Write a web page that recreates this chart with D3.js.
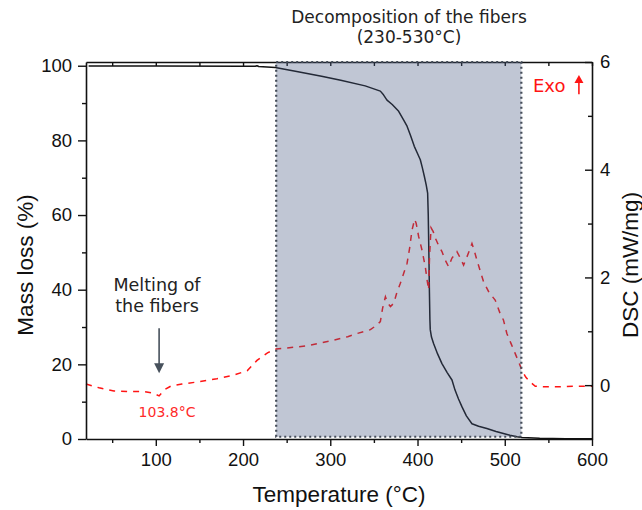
<!DOCTYPE html>
<html>
<head>
<meta charset="utf-8">
<script src="https://cdn.jsdelivr.net/npm/d3@7"></script>
<style>
  html, body { margin: 0; padding: 0; background: #fff; }
  svg { display: block; }
</style>
</head>
<body>
<svg id="chart" width="642" height="510"></svg>
<script>
// ---------- data ----------
const massTemp = [23, 100, 200, 214, 216, 218, 237, 260, 290, 312, 340, 357.4, 361, 365, 371, 378.4, 384, 388, 392, 396.3, 400, 403.2, 405.5, 407.8, 410, 411.6, 412.3, 413, 413.6, 414.2, 414.6, 416, 418.4, 423, 428, 434, 439.5, 443, 447, 451, 456, 462.4, 470, 479.5, 490, 498.5, 506, 514, 520, 540, 570, 600];
const massLoss = [99.9, 99.9, 99.85, 99.85, 100.0, 99.8, 99.5, 98.5, 97.2, 96.1, 94.6, 93.2, 92.2, 90.8, 89.6, 87.8, 85.5, 83.8, 81.3, 78.4, 76.5, 74.8, 72.7, 70.4, 68.0, 65.9, 60, 50, 40, 32, 29.3, 27.3, 25.6, 22.8, 20.2, 17.8, 15.8, 13.1, 10.7, 8.6, 6.2, 4.1, 3.4, 2.8, 2.0, 1.45, 1.0, 0.6, 0.4, 0.2, 0.1, 0.05];

const dscTemp = [20, 35, 52, 70, 87, 97, 103.8, 109.5, 117, 130, 148, 170, 190, 205, 216, 228, 238, 250, 274, 300, 320, 331, 346, 352, 357.4, 360, 363.2, 366, 369, 372.7, 376, 380.3, 384, 388, 391, 393.7, 396.7, 398.5, 401.3, 405.1, 408.9, 411, 412.7, 413.8, 415.5, 418, 420.4, 424, 428, 431.5, 435.6, 439.5, 442.5, 445.2, 449, 452.8, 456.6, 459.5, 462.4, 465, 468.1, 475.7, 482, 489, 494.7, 498.5, 502.4, 507, 511.9, 516, 519.6, 524, 529, 535, 545, 560, 580, 600];
const dscValue = [0.02, -0.05, -0.11, -0.12, -0.12, -0.15, -0.2, -0.09, -0.02, 0.02, 0.06, 0.12, 0.19, 0.27, 0.46, 0.6, 0.67, 0.69, 0.73, 0.82, 0.9, 0.96, 1.03, 1.1, 1.18, 1.43, 1.64, 1.52, 1.46, 1.52, 1.7, 1.89, 2.07, 2.26, 2.55, 2.88, 3.08, 3.0, 2.76, 2.51, 2.2, 1.95, 1.77, 2.4, 2.92, 2.85, 2.73, 2.6, 2.48, 2.33, 2.2, 2.36, 2.42, 2.48, 2.36, 2.23, 2.38, 2.5, 2.63, 2.5, 2.32, 1.92, 1.72, 1.58, 1.33, 1.21, 0.96, 0.78, 0.59, 0.43, 0.28, 0.15, 0.06, -0.02, -0.03, -0.03, -0.02, -0.02];

const xTicks = [100, 200, 300, 400, 500, 600];
const xMinorTicks = [50, 150, 250, 350, 450, 550];
const yLeftTicks = [0, 20, 40, 60, 80, 100];
const yLeftMinorTicks = [10, 30, 50, 70, 90];
const yRightTicks = [0, 2, 4, 6];
const yRightMinorTicks = [1, 3, 5];

const decompRange = [238, 519];       // shaded region (°C)
const meltPeak = 103.8;               // °C
const texts = {
  xTitle: "Temperature (°C)",
  yLeftTitle: "Mass loss (%)",
  yRightTitle: "DSC (mW/mg)",
  decomp1: "Decomposition of the fibers",
  decomp2: "(230-530°C)",
  melt1: "Melting of",
  melt2: "the fibers",
  meltLabel: "103.8°C",
  exo: "Exo"
};

// ---------- layout ----------
const L = 86, R = 592, T = 62, B = 439;
const svg = d3.select("#chart");

const x = d3.scaleLinear().domain([20, 600]).range([L, R]);
const yL = d3.scaleLinear().domain([0, 101]).range([B, T]);
const yR = d3.scaleLinear().domain([-1, 6]).range([B, T]);

const tickFont = "'Liberation Sans', Arial, sans-serif";
const annFont = "'DejaVu Sans', sans-serif";
const axisColor = "#111";

function styleAxis(g, fs) {
  g.selectAll("path.domain").attr("stroke", axisColor).attr("stroke-width", 1.6);
  g.selectAll(".tick line").attr("stroke", axisColor).attr("stroke-width", 1.4);
  g.selectAll(".tick text").attr("fill", "#111").style("font-family", tickFont).style("font-size", fs + "px");
}

// ---------- curves ----------
const massLine = d3.line().x((d, i) => x(massTemp[i])).y((d, i) => yL(massLoss[i]));
svg.append("path").datum(massTemp)
  .attr("d", massLine).attr("fill", "none")
  .attr("stroke", "#111").attr("stroke-width", 1.5).attr("stroke-linejoin", "round");

const dscLine = d3.line().x((d, i) => x(dscTemp[i])).y((d, i) => yR(dscValue[i]));
svg.append("path").datum(dscTemp)
  .attr("d", dscLine).attr("fill", "none")
  .attr("stroke", "#ff1414").attr("stroke-width", 1.5)
  .attr("stroke-dasharray", "6,6");

// ---------- axes ----------
const fmt = d3.format("d");
const gB = svg.append("g").attr("transform", `translate(0,${B})`)
  .call(d3.axisBottom(x).tickValues(xTicks).tickSize(7).tickSizeOuter(0).tickPadding(7).tickFormat(fmt));
styleAxis(gB, 18.5);
const gBm = svg.append("g").attr("transform", `translate(0,${B})`)
  .call(d3.axisBottom(x).tickValues(xMinorTicks).tickSize(4).tickFormat(""));
gBm.select("path.domain").remove(); styleAxis(gBm, 1);

const gT = svg.append("g").attr("transform", `translate(0,${T})`)
  .call(d3.axisTop(x).tickValues(xTicks.concat(xMinorTicks)).tickSize(-4).tickSizeOuter(0).tickFormat(""));
styleAxis(gT, 1);

const gL = svg.append("g").attr("transform", `translate(${L},0)`)
  .call(d3.axisLeft(yL).tickValues(yLeftTicks).tickSize(8).tickSizeOuter(0).tickPadding(6).tickFormat(fmt));
styleAxis(gL, 18.5);
const gLm = svg.append("g").attr("transform", `translate(${L},0)`)
  .call(d3.axisLeft(yL).tickValues(yLeftMinorTicks).tickSize(4).tickFormat(""));
gLm.select("path.domain").remove(); styleAxis(gLm, 1);

const gR = svg.append("g").attr("transform", `translate(${R},0)`)
  .call(d3.axisRight(yR).tickValues(yRightTicks).tickSize(-7).tickSizeOuter(0).tickPadding(8).tickFormat(fmt));
styleAxis(gR, 18.5);
const gRm = svg.append("g").attr("transform", `translate(${R},0)`)
  .call(d3.axisRight(yR).tickValues(yRightMinorTicks).tickSize(-4).tickFormat(""));
gRm.select("path.domain").remove(); styleAxis(gRm, 1);

// ---------- shaded decomposition region (overlay) ----------
const rx0 = x(decompRange[0]), rx1 = x(decompRange[1]);
const ry0 = yL(101), ry1 = yL(0.6);
svg.append("rect")
  .attr("x", rx0).attr("y", ry0).attr("width", rx1 - rx0).attr("height", ry1 - ry0)
  .attr("fill", "rgb(70,88,130)").attr("fill-opacity", 0.34);
svg.append("rect")
  .attr("x", rx0).attr("y", ry0).attr("width", rx1 - rx0).attr("height", ry1 - ry0)
  .attr("fill", "none").attr("stroke", "#444c58").attr("stroke-width", 2.2)
  .attr("stroke-dasharray", "2,3");

// ---------- axis titles ----------
svg.append("text").attr("x", (L + R) / 2).attr("y", 502)
  .attr("text-anchor", "middle").style("font-family", tickFont).style("font-size", "22.5px")
  .attr("fill", "#111").text(texts.xTitle);
svg.append("text").attr("transform", "translate(33,265) rotate(-90)")
  .attr("text-anchor", "middle").style("font-family", tickFont).style("font-size", "22.5px")
  .attr("fill", "#111").text(texts.yLeftTitle);
svg.append("text").attr("transform", "translate(638,265) rotate(-90)")
  .attr("text-anchor", "middle").style("font-family", tickFont).style("font-size", "22.5px")
  .attr("fill", "#111").text(texts.yRightTitle);

// ---------- annotations ----------
svg.append("text").attr("x", 409).attr("y", 23).attr("text-anchor", "middle")
  .style("font-family", annFont).style("font-size", "17px").attr("fill", "#222")
  .text(texts.decomp1);
svg.append("text").attr("x", 409).attr("y", 43).attr("text-anchor", "middle")
  .style("font-family", annFont).style("font-size", "17px").attr("fill", "#222")
  .text(texts.decomp2);

svg.append("text").attr("x", 157).attr("y", 291).attr("text-anchor", "middle")
  .style("font-family", annFont).style("font-size", "17.5px").attr("fill", "#222")
  .text(texts.melt1);
svg.append("text").attr("x", 157).attr("y", 312).attr("text-anchor", "middle")
  .style("font-family", annFont).style("font-size", "17.5px").attr("fill", "#222")
  .text(texts.melt2);

// melting arrow (down)
const ax = x(meltPeak), ayTop = yL(29.7), ayTip = yL(17.6);
svg.append("line").attr("x1", ax).attr("x2", ax).attr("y1", ayTop).attr("y2", ayTip - 8)
  .attr("stroke", "#47515c").attr("stroke-width", 1.6);
svg.append("path")
  .attr("d", `M${ax - 5},${ayTip - 10} L${ax + 5},${ayTip - 10} L${ax},${ayTip} Z`)
  .attr("fill", "#47515c");

svg.append("text").attr("x", 167).attr("y", 417).attr("text-anchor", "middle")
  .style("font-family", annFont).style("font-size", "14px").attr("fill", "#ff2a2a")
  .text(texts.meltLabel);

// Exo label with up arrow
svg.append("text").attr("x", 533).attr("y", 92)
  .style("font-family", annFont).style("font-size", "18px").attr("fill", "#ff1414")
  .text(texts.exo);
const ex = x(585), eyBase = yR(5.4), eyTip = yR(5.76);
svg.append("line").attr("x1", ex).attr("x2", ex).attr("y1", eyBase).attr("y2", eyTip + 6)
  .attr("stroke", "#ff1414").attr("stroke-width", 1.6);
svg.append("path")
  .attr("d", `M${ex - 4.5},${eyTip + 8} L${ex + 4.5},${eyTip + 8} L${ex},${eyTip} Z`)
  .attr("fill", "#ff1414");
</script>
</body>
</html>
